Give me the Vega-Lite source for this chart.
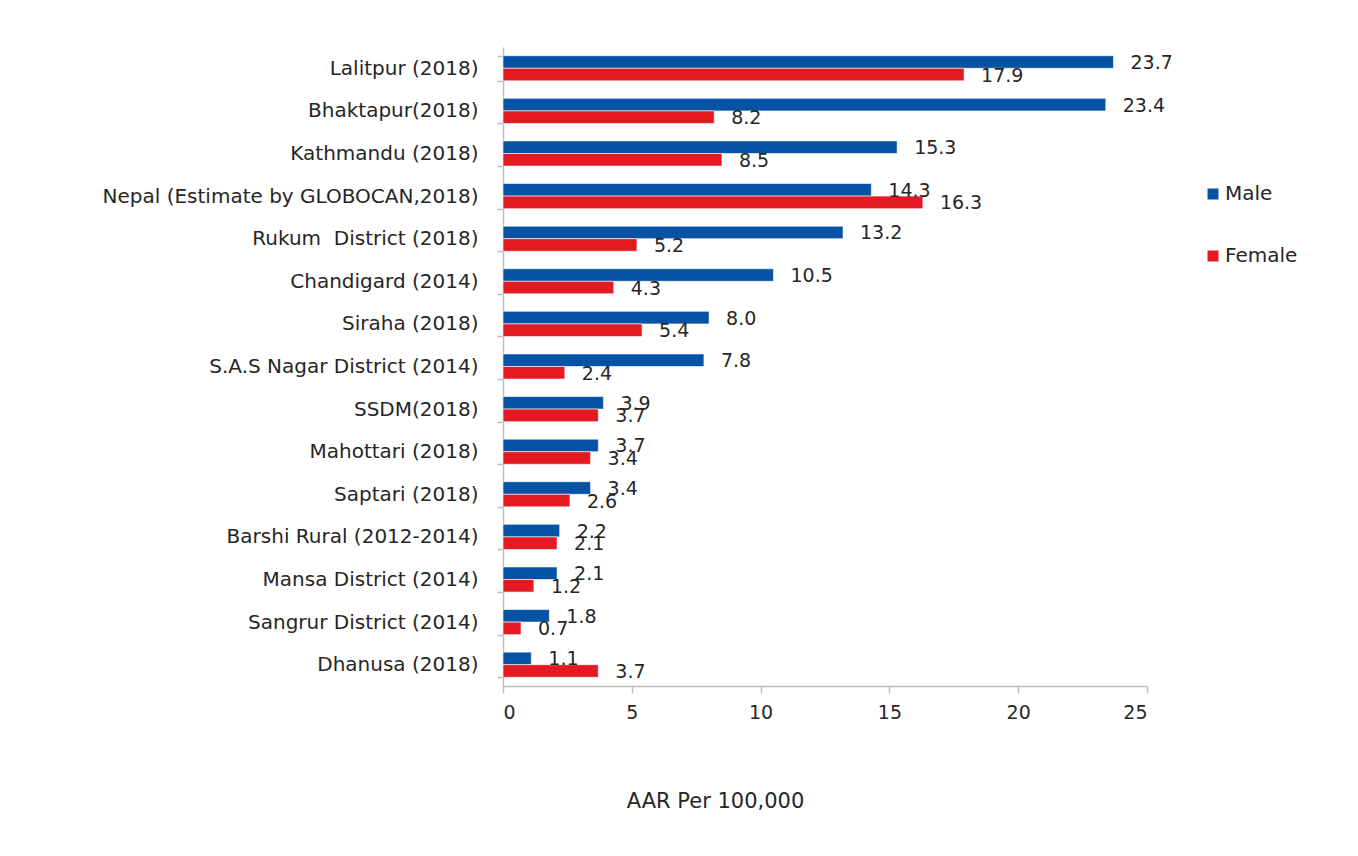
{
  "$schema": "https://vega.github.io/schema/vega-lite/v6.json",
  "autosize": {"type": "none"},
  "width": 644,
  "height": 639,
  "padding": {"left": 503, "top": 47, "right": 211, "bottom": 170},
  "background": "white",
  "config": {
    "view": {"stroke": null},
    "font": "DejaVu Sans",
    "text": {"font": "DejaVu Sans"}
  },
  "data": {
    "values": [
      {"region": "Lalitpur (2018)", "sex": "Male", "aar": 23.7},
      {"region": "Lalitpur (2018)", "sex": "Female", "aar": 17.9},
      {"region": "Bhaktapur(2018)", "sex": "Male", "aar": 23.4},
      {"region": "Bhaktapur(2018)", "sex": "Female", "aar": 8.2},
      {"region": "Kathmandu (2018)", "sex": "Male", "aar": 15.3},
      {"region": "Kathmandu (2018)", "sex": "Female", "aar": 8.5},
      {"region": "Nepal (Estimate by GLOBOCAN,2018)", "sex": "Male", "aar": 14.3},
      {"region": "Nepal (Estimate by GLOBOCAN,2018)", "sex": "Female", "aar": 16.3},
      {"region": "Rukum \u00a0District (2018)", "sex": "Male", "aar": 13.2},
      {"region": "Rukum \u00a0District (2018)", "sex": "Female", "aar": 5.2},
      {"region": "Chandigard (2014)", "sex": "Male", "aar": 10.5},
      {"region": "Chandigard (2014)", "sex": "Female", "aar": 4.3},
      {"region": "Siraha (2018)", "sex": "Male", "aar": 8.0},
      {"region": "Siraha (2018)", "sex": "Female", "aar": 5.4},
      {"region": "S.A.S Nagar District (2014)", "sex": "Male", "aar": 7.8},
      {"region": "S.A.S Nagar District (2014)", "sex": "Female", "aar": 2.4},
      {"region": "SSDM(2018)", "sex": "Male", "aar": 3.9},
      {"region": "SSDM(2018)", "sex": "Female", "aar": 3.7},
      {"region": "Mahottari (2018)", "sex": "Male", "aar": 3.7},
      {"region": "Mahottari (2018)", "sex": "Female", "aar": 3.4},
      {"region": "Saptari (2018)", "sex": "Male", "aar": 3.4},
      {"region": "Saptari (2018)", "sex": "Female", "aar": 2.6},
      {"region": "Barshi Rural (2012-2014)", "sex": "Male", "aar": 2.2},
      {"region": "Barshi Rural (2012-2014)", "sex": "Female", "aar": 2.1},
      {"region": "Mansa District (2014)", "sex": "Male", "aar": 2.1},
      {"region": "Mansa District (2014)", "sex": "Female", "aar": 1.2},
      {"region": "Sangrur District (2014)", "sex": "Male", "aar": 1.8},
      {"region": "Sangrur District (2014)", "sex": "Female", "aar": 0.7},
      {"region": "Dhanusa (2018)\u00a0", "sex": "Male", "aar": 1.1},
      {"region": "Dhanusa (2018)\u00a0", "sex": "Female", "aar": 3.7}
    ]
  },
  "encoding": {
    "y": {
      "field": "region",
      "type": "nominal",
      "sort": null,
      "scale": {"paddingInner": 0.41, "paddingOuter": 0.205},
      "axis": {
        "title": null,
        "tickBand": "extent",
        "tickSize": 6,
        "labelPadding": 19,
        "labelFontSize": 20,
        "labelLimit": 0,
        "labelColor": "#262626",
        "domainColor": "#bfbfbf",
        "tickColor": "#bfbfbf",
        "domainWidth": 1.5,
        "tickWidth": 1.5,
        "grid": false
      }
    },
    "yOffset": {
      "field": "sex",
      "type": "nominal",
      "sort": ["Male", "Female"],
      "scale": {"paddingInner": 0, "paddingOuter": 0}
    },
    "x": {
      "field": "aar",
      "type": "quantitative",
      "scale": {"domain": [0, 25], "nice": false},
      "axis": {
        "values": [0, 5, 10, 15, 20, 25],
        "title": "AAR Per 100,000",
        "titleFontSize": 21,
        "titleFontWeight": "normal",
        "titleColor": "#262626",
        "titleX": 212,
        "titleY": 115,
        "titleBaseline": "middle",
        "titleAlign": "center",
        "tickSize": 7,
        "labelPadding": 10,
        "labelFontSize": 19,
        "labelColor": "#262626",
        "domainColor": "#bfbfbf",
        "tickColor": "#bfbfbf",
        "domainWidth": 1.5,
        "tickWidth": 1.5,
        "grid": false
      }
    }
  },
  "layer": [
    {
      "mark": {"type": "bar", "stroke": "white", "strokeWidth": 0.6},
      "encoding": {
        "color": {
          "field": "sex",
          "type": "nominal",
          "scale": {"domain": ["Male", "Female"], "range": ["#0653a6", "#e41a22"]},
          "legend": {
            "title": null,
            "orient": "none",
            "legendX": 700,
            "legendY": 137,
            "symbolType": "square",
            "symbolSize": 121,
            "symbolStrokeWidth": 0,
            "labelFontSize": 20,
            "labelColor": "#262626",
            "labelOffset": 2,
            "rowPadding": 42
          }
        }
      }
    },
    {
      "mark": {"type": "text", "align": "left", "baseline": "middle", "dx": 17, "dy": 1, "fontSize": 19, "color": "#262626"},
      "encoding": {
        "text": {"field": "aar", "type": "quantitative", "format": ".1f"}
      }
    }
  ]
}
